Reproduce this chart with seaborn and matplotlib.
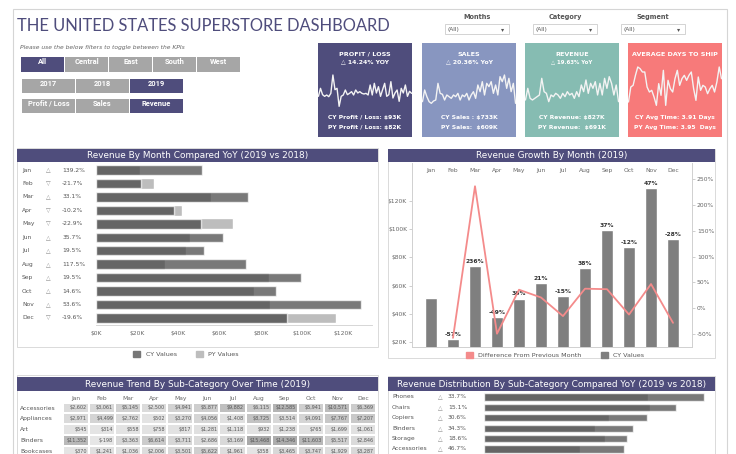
import numpy as np
import pandas as pd
import seaborn as sns
import matplotlib.pyplot as plt
from matplotlib.patches import Rectangle, Patch
from matplotlib.colors import LinearSegmentedColormap

# ---------------- data ----------------
months = ['Jan', 'Feb', 'Mar', 'Apr', 'May', 'Jun', 'Jul', 'Aug', 'Sep', 'Oct', 'Nov', 'Dec']
cy_revenue = [51.3, 22.0, 74.0, 37.8, 50.9, 61.6, 52.4, 72.6, 99.3, 87.5, 128.7, 92.6]   # $K 2019
py_revenue = [21.5, 28.0, 55.9, 41.9, 66.6, 45.5, 43.9, 33.5, 83.9, 76.8, 84.5, 116.3]  # $K 2018
yoy_change = [139.2, -21.7, 33.1, -10.2, -22.9, 35.7, 19.5, 117.5, 19.5, 14.6, 53.6, -19.6]
mom_change = [np.nan, -57, 236, -49, 36, 21, -15, 38, 37, -12, 47, -28]

kpi_titles = ['PROFIT / LOSS', 'SALES', 'REVENUE', 'AVERAGE DAYS TO SHIP']
kpi_yoy = ['\u25b3 14.24% YOY', '\u25b3 20.36% YoY', '\u25b3 19.63% YoY', '']
kpi_cy = ['CY Profit / Loss: $93K', 'CY Sales : $733K', 'CY Revenue: $827K', 'CY Avg Time: 3.91 Days']
kpi_py = ['PY Profit / Loss: $82K', 'PY Sales:  $609K', 'PY Revenue:  $691K', 'PY Avg Time: 3.95  Days']
kpi_colors = ['#4f4d7c', '#8896c0', '#86bcb2', '#f77a7a']

profit_trend = [50, 74, 55, 50, 54, 49, 59, 114, 70, 74, 20, 50, 54, 69, 55, 59, 64, 54, 69, 60, 64, 59, 57,
                59, 54, 84, 54, 89, 60, 79, 50, 70, 89, 50, 55, 94, 45, 60, 69, 35, 74, 60, 84, 50, 65, 59]
sales_trend = [34, 69, 49, 34, 29, 36, 39, 89, 59, 56, 39, 54, 49, 44, 54, 49, 59, 39, 54, 49, 59, 39,
               54, 64, 44, 84, 64, 94, 54, 89, 79, 94, 59, 84, 54, 109, 94, 114, 74, 104, 64, 89, 29]
revenue_trend = [39, 74, 44, 39, 44, 49, 54, 104, 64, 59, 34, 54, 49, 59, 54, 44, 59, 49, 64, 54, 59,
                 44, 64, 49, 84, 64, 99, 59, 89, 74, 94, 54, 89, 54, 104, 74, 109, 89, 54, 84, 34]
ship_trend = [24, 69, 74, 104, 129, 124, 114, 114, 69, 54, 59, 39, 14, 79, 44, 119, 14, 89, 64, 54, 94,
              119, 74, 94, 104, 89, 104, 114, 64, 29, 99, 59, 74, 69, 49, 64, 74, 54, 84, 129, 94]
kpi_trends = [profit_trend, sales_trend, revenue_trend, ship_trend]

regions = ['All', 'Central', 'East', 'South', 'West']
years = ['2017', '2018', '2019']
measures = ['Profit / Loss', 'Sales', 'Revenue']

table_subcats = ['Accessories', 'Appliances', 'Art', 'Binders', 'Bookcases']
table_values = [
    [2602, 3061, 5145, 2500, 4941, 5877, 9882, 6115, 12585, 5941, 10571, 6369],
    [2971, 4499, 2762, 502, 3270, 4056, 1408, 8725, 3514, 4091, 7767, 7207],
    [545, 314, 558, 758, 817, 1281, 1118, 932, 1238, 765, 1699, 1061],
    [11352, -198, 3363, 6614, 3711, 2686, 3169, 15468, 14346, 11603, 5517, 2846],
    [370, 1241, 1036, 2006, 3501, 5622, 1961, 358, 3465, 3747, 1929, 3287],
]

dist_subcats = ['Phones', 'Chairs', 'Copiers', 'Binders', 'Storage', 'Accessories']
dist_cy = [105.0, 91.5, 78.0, 71.2, 68.3, 66.9]
dist_py = [78.4, 79.4, 59.6, 53.0, 57.7, 45.8]
dist_yoy = [33.7, 15.1, 30.6, 34.3, 18.6, 46.7]

# ---------------- helpers ----------------
W, H = 736, 454
NAVY = '#4f4d7c'
GREY_TXT = '#666666'
SPARK = '#f3f3f3'

sns.set_style('white')
plt.rcParams['font.family'] = ['DejaVu Sans']

fig = plt.figure(figsize=(W / 100, H / 100), dpi=100)
fig.patch.set_facecolor('white')


def box(x0, y0, x1, y1):
    return [x0 / W, 1 - y1 / H, (x1 - x0) / W, (y1 - y0) / H]


def rect(x0, y0, x1, y1, **kw):
    fig.add_artist(Rectangle((x0 / W, 1 - y1 / H), (x1 - x0) / W, (y1 - y0) / H,
                             transform=fig.transFigure, **kw))


def ftext(x, y, s, **kw):
    fig.text(x / W, 1 - y / H, s, **kw)


def header(x0, y0, x1, y1, title):
    rect(x0, y0, x1, y1, facecolor=NAVY, edgecolor='none')
    ftext((x0 + x1) / 2, (y0 + y1) / 2 + 0.5, title, color='white', fontsize=6.4,
          ha='center', va='center')


def clean(ax):
    ax.set_xticks([])
    ax.set_yticks([])
    for s in ax.spines.values():
        s.set_visible(False)


# outer frame
rect(13, 9, 727, 470, fill=False, edgecolor='#d5d5d5', lw=0.8)

# title + filters
ftext(17, 26, 'THE UNITED STATES SUPERSTORE DASHBOARD', family=['Lato', 'DejaVu Sans'],
      fontsize=11.9, color=NAVY, va='center')
ftext(20, 48, 'Please use the below filters to toggle between the KPIs', fontsize=4.3,
      style='italic', color=GREY_TXT, va='center')

btn_font = dict(family=['Roboto', 'DejaVu Sans'], fontsize=5.4,
                fontweight='bold', color='white', ha='center', va='center')
for i, r in enumerate(regions):
    x0 = 21 + i * 44
    rect(x0, 57, x0 + 43, 72, facecolor=NAVY if r == 'All' else '#a6a6a6', edgecolor='none')
    ftext(x0 + 21.5, 62.5, r, **btn_font)
for i, yv in enumerate(years):
    x0 = 22 + i * 54
    rect(x0, 79, x0 + 53, 93, facecolor=NAVY if yv == '2019' else '#a6a6a6', edgecolor='none')
    ftext(x0 + 26.5, 84, yv, **btn_font)
for i, m in enumerate(measures):
    x0 = 22 + i * 54
    rect(x0, 99, x0 + 53, 113, facecolor=NAVY if m == 'Revenue' else '#a6a6a6', edgecolor='none')
    ftext(x0 + 26.5, 104, m, **btn_font)

# dropdowns
for label, x0 in zip(['Months', 'Category', 'Segment'], [445, 533, 621]):
    ftext(x0 + 32, 17, label, fontsize=4.7, fontweight='bold', color='#555555', ha='center', va='center')
    rect(x0, 24, x0 + 64, 34, facecolor='white', edgecolor='#cccccc', lw=0.6)
    ftext(x0 + 3, 29, '(All)', fontsize=4.2, color='#555555', va='center')
    ftext(x0 + 58, 29.5, '\u25be', fontsize=4.5, color='#555555', ha='center', va='center')

# ---------------- KPI cards ----------------
card_x = [318, 422, 525, 628]
for i in range(4):
    x0 = card_x[i]
    ax = fig.add_axes(box(x0, 43, x0 + 94, 137))
    ax.set_facecolor(kpi_colors[i])
    trend = kpi_trends[i]
    sns.lineplot(x=np.arange(len(trend)), y=trend, color=SPARK, linewidth=1.0, ax=ax)
    ax.set_xlim(-0.2, len(trend) - 0.8)
    if i < 3:
        ax.set_ylim(-72, 210)
    else:
        ax.set_ylim(-81, 201)
    ax.tick_params(axis='both', length=0, labelbottom=False, labelleft=False)
    for s in ax.spines.values():
        s.set_visible(False)
    ax.set_xlabel('')
    ax.set_ylabel('')
    kw = dict(transform=ax.transAxes, color='white', fontweight='bold', ha='center', va='center')
    ax.text(0.5, (137 - 54) / 94, kpi_titles[i], fontsize=4.6, **kw)
    if kpi_yoy[i]:
        ax.text(0.5, (137 - 62) / 94, kpi_yoy[i], fontsize=4.4 if i < 2 else 3.9, **kw)
    ax.text(0.5, (137 - 118) / 94, kpi_cy[i], fontsize=4.3, **kw)
    ax.text(0.5, (137 - 127) / 94, kpi_py[i], fontsize=4.3, **kw)

# ---------------- revenue by month YoY ----------------
rect(17, 148, 378, 347, fill=False, edgecolor='#d5d5d5', lw=0.6)
header(17, 149, 378, 162, 'Revenue By Month Compared YoY (2019 vs 2018)')
df_m = pd.DataFrame({'Month': months, 'CY': cy_revenue, 'PY': py_revenue})
ax1 = fig.add_axes(box(96, 163.3, 372, 324.7))
sns.barplot(data=df_m, y='Month', x='PY', color='#bdbdbd', width=0.8, saturation=1, ax=ax1)
sns.barplot(data=df_m, y='Month', x='CY', color='#404040', alpha=0.7, width=0.7, saturation=1, ax=ax1)
ax1.set_xlim(0, 134)
ax1.set_xticks(range(0, 121, 20))
ax1.set_xticklabels([f'${v}K' for v in range(0, 121, 20)])
ax1.tick_params(axis='x', labelsize=4.3, colors='#666666', length=2.5, width=0.5, pad=2,
                color='#cccccc')
ax1.set_yticks([])
ax1.set_xlabel('')
ax1.set_ylabel('')
for s in ['top', 'right', 'left']:
    ax1.spines[s].set_visible(False)
ax1.spines['bottom'].set_color('#d0d0d0')
ax1.spines['bottom'].set_linewidth(0.6)
ytr = ax1.get_yaxis_transform()
for i, m in enumerate(months):
    up = yoy_change[i] >= 0
    ax1.text(-0.268, i, m, transform=ytr, fontsize=4.3, color='#555555', va='center')
    ax1.text(-0.174, i, '\u25b3' if up else '\u25bd', transform=ytr, fontsize=4.3,
             color='#888888', va='center', ha='center')
    ax1.text(-0.123, i, f'{yoy_change[i]}%', transform=ytr, fontsize=4.3, color='#555555',
             va='center')
fig.legend(handles=[Patch(color='#777777'), Patch(color='#bdbdbd')], labels=['CY Values', 'PY Values'],
           loc='center', bbox_to_anchor=(186 / W, 1 - 354 / H), ncol=2, frameon=False, fontsize=4.6,
           handlelength=1.1, handleheight=1.1, columnspacing=3, labelcolor='#555555')

# ---------------- revenue growth by month ----------------
rect(388, 149, 715, 358, fill=False, edgecolor='#d5d5d5', lw=0.6)
header(388, 149, 715, 162, 'Revenue Growth By Month (2019)')
ax2 = fig.add_axes(box(412, 163, 692, 347))
sns.barplot(data=df_m, x='Month', y='CY', color='#7f7f7f', width=0.57, saturation=1, ax=ax2)
ax2.set_ylim(16.7, 146.6)
ax2.set_yticks(range(20, 121, 20))
ax2.set_yticklabels([f'${v}K' for v in range(20, 121, 20)])
ax2.tick_params(axis='y', labelsize=4.3, colors='#666666', length=2, width=0.5, pad=1.5, color='#bbbbbb')
ax2.tick_params(axis='x', bottom=False, top=False, labelbottom=False, labeltop=True, labelsize=4.3,
                colors='#666666', pad=-7, length=0)
ax2.set_xlabel('')
ax2.set_ylabel('')
ax2.bar_label(ax2.containers[0], labels=['' if np.isnan(v) else f'{int(v)}%' for v in mom_change],
              padding=1.5, fontsize=4.3, fontweight='bold', color='#333333')
ax2b = ax2.twinx()
sns.lineplot(x=np.arange(1, 12), y=mom_change[1:], color='#f48b8b', lw=1.3, ax=ax2b)
ax2b.set_ylim(-74.7, 280.9)
ax2b.set_yticks(range(-50, 251, 50))
ax2b.set_yticklabels([f'{v}%' for v in range(-50, 251, 50)])
ax2b.tick_params(axis='y', labelsize=4.3, colors='#666666', length=2, width=0.5, pad=1.5, color='#bbbbbb')
ax2b.set_ylabel('')
for a in (ax2, ax2b):
    a.spines['top'].set_visible(False)
    for s in ['left', 'right', 'bottom']:
        a.spines[s].set_color('#d0d0d0')
        a.spines[s].set_linewidth(0.6)
fig.legend(handles=[Patch(color='#f48b8b'), Patch(color='#7f7f7f')],
           labels=['Difference From Previous Month', 'CY Values'],
           loc='center', bbox_to_anchor=(555 / W, 1 - 355 / H), ncol=2, frameon=False, fontsize=4.6,
           handlelength=1.1, handleheight=1.1, columnspacing=3, labelcolor='#555555')

# ---------------- revenue trend table ----------------
rect(17, 375, 378, 470, fill=False, edgecolor='#d5d5d5', lw=0.6)
header(17, 377, 378, 391, 'Revenue Trend By Sub-Category Over Time (2019)')
tbl = pd.DataFrame(table_values, index=table_subcats, columns=months)
annot = tbl.apply(lambda col: col.map(lambda v: f'${v:,}'))
ax3 = fig.add_axes(box(63, 402.6, 376, 456.6))
grey_map = LinearSegmentedColormap.from_list('greys', ['#e6e6e6', '#a9a9a9'])
sns.heatmap(tbl, annot=annot, fmt='', cmap=grey_map, cbar=False, linewidths=1.3, linecolor='white',
            xticklabels=True, yticklabels=True,
            annot_kws={'fontsize': 3.5, 'color': '#555555'}, ax=ax3)
for t in ax3.texts:
    t.set_ha('right')
    t.set_x(t.get_position()[0] + 0.42)
ax3.xaxis.tick_top()
ax3.tick_params(axis='x', labelsize=4.3, colors='#666666', length=0, pad=1.5)
ax3.tick_params(axis='y', labelsize=4.3, colors='#555555', length=0, pad=31, rotation=0)
for lab in ax3.get_yticklabels():
    lab.set_ha('left')
ax3.set_xlabel('')
ax3.set_ylabel('')

# ---------------- revenue distribution ----------------
rect(388, 376, 715, 470, fill=False, edgecolor='#d5d5d5', lw=0.6)
header(388, 377, 715, 391, 'Revenue Distribution By Sub-Category Compared YoY (2019 vs 2018)')
df_d = pd.DataFrame({'Sub': dist_subcats, 'CY': dist_cy, 'PY': dist_py})
ax4 = fig.add_axes(box(484, 391.8, 712, 454.2))
sns.barplot(data=df_d, y='Sub', x='PY', color='#bdbdbd', width=0.8, saturation=1, ax=ax4)
sns.barplot(data=df_d, y='Sub', x='CY', color='#404040', alpha=0.7, width=0.68, saturation=1, ax=ax4)
ax4.set_xlim(0, 108.8)
clean(ax4)
ax4.set_xlabel('')
ax4.set_ylabel('')
ytr4 = ax4.get_yaxis_transform()
for i, s in enumerate(dist_subcats):
    ax4.text(-0.4035, i, s, transform=ytr4, fontsize=4.3, color='#555555', va='center')
    ax4.text(-0.193, i, '\u25b3', transform=ytr4, fontsize=4.3, color='#888888', va='center', ha='center')
    ax4.text(-0.158, i, f'{dist_yoy[i]}%', transform=ytr4, fontsize=4.3, color='#555555', va='center')

fig.savefig('out.png', dpi=100)
